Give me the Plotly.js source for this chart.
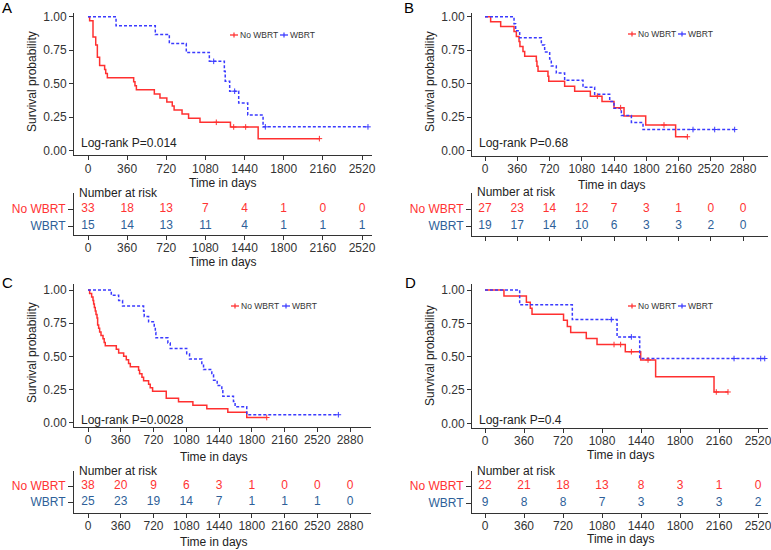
<!DOCTYPE html>
<html><head><meta charset="utf-8">
<script src="https://cdn.plot.ly/plotly-3.0.1.min.js"></script>
<style>html,body{margin:0;padding:0;background:#fff;}#chart{width:771px;height:550px;}</style>
</head><body><div id="chart"></div>
<script>
// ================= DATA =================
const groups = ['No WBRT', 'WBRT'];
const ticks2520 = [0, 360, 720, 1080, 1440, 1800, 2160, 2520];
const ticks2880 = [0, 360, 720, 1080, 1440, 1800, 2160, 2520, 2880];
const yTicks = [0, 0.25, 0.5, 0.75, 1];

// Panel A
const aNoT = [0, 15, 46, 71, 86, 107, 153, 163, 178, 420, 432, 445, 610, 662, 725, 775, 792, 865, 925, 1030, 1310, 1565, 2128];
const aNoS = [1, 0.970, 0.848, 0.788, 0.697, 0.636, 0.606, 0.576, 0.545, 0.515, 0.485, 0.455, 0.424, 0.394, 0.364, 0.333, 0.303, 0.273, 0.242, 0.212, 0.177, 0.09, 0.09];
const aNoCensT = [1180, 1340, 1450, 2128];
const aNoCensS = [0.212, 0.177, 0.177, 0.09];
const aWbT = [0, 258, 619, 748, 904, 1116, 1254, 1262, 1303, 1386, 1469, 1610, 2575];
const aWbS = [1, 0.933, 0.867, 0.800, 0.733, 0.667, 0.593, 0.519, 0.444, 0.356, 0.267, 0.178, 0.178];
const aWbCensT = [1156, 1349, 1631, 2575];
const aWbCensS = [0.667, 0.444, 0.178, 0.178];
const aRiskNo = [33, 18, 13, 7, 4, 1, 0, 0];
const aRiskWb = [15, 14, 13, 11, 4, 1, 1, 1];
const aP = 'Log-rank P=0.014';

// Panel B
const bNoT = [0, 63, 175, 324, 350, 380, 390, 424, 443, 573, 580, 592, 703, 712, 889, 1001, 1176, 1306, 1440, 1552, 1794, 2128, 2259];
const bNoS = [1, 0.963, 0.926, 0.889, 0.852, 0.815, 0.778, 0.741, 0.704, 0.667, 0.630, 0.593, 0.556, 0.519, 0.481, 0.444, 0.407, 0.367, 0.321, 0.259, 0.192, 0.104, 0.104];
const bNoCensT = [1254, 1514, 1998, 2259];
const bNoCensS = [0.407, 0.321, 0.192, 0.104];
const bWbT = [0, 324, 342, 387, 629, 666, 722, 740, 796, 889, 1094, 1224, 1392, 1440, 1522, 1634, 1764, 2787];
const bWbS = [1, 0.947, 0.895, 0.842, 0.789, 0.737, 0.684, 0.632, 0.579, 0.526, 0.474, 0.421, 0.368, 0.316, 0.263, 0.211, 0.158, 0.158];
const bWbCensT = [2322, 2564, 2787];
const bWbCensS = [0.158, 0.158, 0.158];
const bRiskNo = [27, 23, 14, 12, 7, 3, 1, 0, 0];
const bRiskWb = [19, 17, 14, 10, 6, 3, 3, 2, 0];
const bP = 'Log-rank P=0.68';

// Panel C
const cNoT = [0, 18, 40, 55, 62, 70, 80, 88, 99, 106, 117, 128, 143, 165, 178, 190, 311, 337, 392, 421, 446, 465, 556, 567, 593, 611, 666, 684, 710, 860, 995, 1153, 1306, 1537, 1745, 1965];
const cNoS = [1, 0.974, 0.947, 0.921, 0.895, 0.868, 0.842, 0.816, 0.789, 0.737, 0.711, 0.684, 0.658, 0.632, 0.605, 0.579, 0.553, 0.526, 0.500, 0.474, 0.447, 0.421, 0.395, 0.368, 0.342, 0.316, 0.289, 0.263, 0.237, 0.184, 0.158, 0.132, 0.105, 0.079, 0.039, 0.039];
const cNoCensT = [1965];
const cNoCensS = [0.039];
const cWbT = [0, 256, 337, 380, 611, 618, 666, 728, 740, 746, 878, 904, 1085, 1116, 1251, 1270, 1361, 1380, 1420, 1471, 1482, 1599, 1617, 1745, 2752];
const cWbS = [1, 0.96, 0.92, 0.88, 0.84, 0.80, 0.76, 0.72, 0.68, 0.64, 0.60, 0.56, 0.52, 0.48, 0.44, 0.40, 0.36, 0.32, 0.28, 0.24, 0.20, 0.16, 0.12, 0.06, 0.06];
const cWbCensT = [2752];
const cWbCensS = [0.06];
const cRiskNo = [38, 20, 9, 6, 3, 1, 0, 0, 0];
const cRiskWb = [25, 23, 19, 14, 7, 1, 1, 1, 0];
const cP = 'Log-rank P=0.0028';

// Panel D
const dNoT = [0, 175, 382, 418, 434, 725, 760, 791, 935, 1034, 1295, 1437, 1575, 2114, 2243];
const dNoS = [1, 0.955, 0.909, 0.864, 0.818, 0.773, 0.727, 0.682, 0.636, 0.591, 0.537, 0.475, 0.35, 0.235, 0.235];
const dNoCensT = [1191, 1252, 1351, 1505, 2135, 2243];
const dNoCensS = [0.591, 0.591, 0.537, 0.475, 0.235, 0.235];
const dWbT = [0, 320, 806, 1219, 1428, 2582];
const dWbS = [1, 0.889, 0.778, 0.648, 0.486, 0.486];
const dWbCensT = [1166, 1351, 2299, 2545, 2582];
const dWbCensS = [0.778, 0.648, 0.486, 0.486, 0.486];
const dRiskNo = [22, 21, 18, 13, 8, 3, 1, 0];
const dRiskWb = [9, 8, 8, 7, 3, 3, 3, 2];
const dP = 'Log-rank P=0.4';

// ================= STYLE / GEOMETRY =================
const W = 771, H = 550;
const FONT = 'Liberation Sans, Arial, Helvetica, sans-serif';
const RED = '#ff3030', BLUE = '#3a3aff';
const RED_T = '#ff3333', BLUE_T = '#2e5f99';
const AX = '#333333';

const panels = [
  {key:'A', noT:aNoT, noS:aNoS, noCT:aNoCensT, noCS:aNoCensS, wbT:aWbT, wbS:aWbS, wbCT:aWbCensT, wbCS:aWbCensS, rNo:aRiskNo, rWb:aRiskWb, p:aP, ticks:ticks2520,
   kmX:[74,372], xp0:88, xp1:362, kmY:[12.7,155.3], yp1:16.7, yp0:150.7, tbY:[193,235], rowNo:209, rowWb:226, tbLabels:true,
   lab:[7,8], ytit:[32,82], xtit:[223,183], tbtit:[223,262], lr:[80,143], nar:[78,193], leg:[230,35,280]},
  {key:'B', noT:bNoT, noS:bNoS, noCT:bNoCensT, noCS:bNoCensS, wbT:bWbT, wbS:bWbS, wbCT:bWbCensT, wbCS:bWbCensS, rNo:bRiskNo, rWb:bRiskWb, p:bP, ticks:ticks2880,
   kmX:[472,768], xp0:485, xp1:743, kmY:[13,156], yp1:16.7, yp0:150.7, tbY:[193,236], rowNo:209, rowWb:226, tbLabels:false,
   lab:[409,8], ytit:[430,82], xtit:[612,185], tbtit:null, lr:[478,143], nar:[476,192], leg:[628,34,678]},
  {key:'C', noT:cNoT, noS:cNoS, noCT:cNoCensT, noCS:cNoCensS, wbT:cWbT, wbS:cWbS, wbCT:cWbCensT, wbCS:cWbCensS, rNo:cRiskNo, rWb:cRiskWb, p:cP, ticks:ticks2880,
   kmX:[74,370.7], xp0:88, xp1:350, kmY:[284,426.7], yp1:290, yp0:422.7, tbY:[471,513], rowNo:486, rowWb:502, tbLabels:true,
   lab:[7,282], ytit:[32,353], xtit:[214,457], tbtit:[214,542], lr:[80,420], nar:[78,471], leg:[231,306,282]},
  {key:'D', noT:dNoT, noS:dNoS, noCT:dNoCensT, noCS:dNoCensS, wbT:dWbT, wbS:dWbS, wbCT:dWbCensT, wbCS:dWbCensS, rNo:dRiskNo, rWb:dRiskWb, p:dP, ticks:ticks2520,
   kmX:[472,768], xp0:485, xp1:758, kmY:[284,428], yp1:290, yp0:423.3, tbY:[471,513], rowNo:486, rowWb:503, tbLabels:true,
   lab:[410,282], ytit:[430,356], xtit:[621,455], tbtit:[621,539], lr:[478,420], nar:[476,471], leg:[628,306,678]}
];

function pxX(p){return p / W;}
function pxY(p){return 1 - p / H;}
// value range spanning pixel edges [a,b], given value v0 at pixel p0 and v1 at p1
function spanRange(a, b, p0, v0, p1, v1){
  const k = (v1 - v0) / (p1 - p0);
  return [v0 + (a - p0) * k, v0 + (b - p0) * k];
}

const traces = [];
const layout = {
  width: W, height: H, margin:{l:0,r:0,t:0,b:0},
  paper_bgcolor:'#fff', plot_bgcolor:'rgba(0,0,0,0)',
  font:{family:FONT, size:12, color:AX},
  showlegend:false, annotations:[], shapes:[]
};

const baseAxis = {showline:true, linecolor:AX, linewidth:1, ticks:'outside', ticklen:4, tickcolor:AX, tickwidth:1,
  showgrid:false, zeroline:false, fixedrange:true, ticklabeloverflow:'allow',
  tickfont:{family:FONT, size:12, color:AX}};

function ann(text, x, y, opts){
  layout.annotations.push(Object.assign({text:text, x:pxX(x), y:pxY(y), xref:'paper', yref:'paper',
    showarrow:false, xanchor:'center', yanchor:'middle', borderpad:0, font:{family:FONT, size:12, color:'#222'}}, opts||{}));
}

panels.forEach((g, i) => {
  const kn = i + 1, tn = i + 5;
  const kx = 'x' + (kn === 1 ? '' : kn), ky = 'y' + (kn === 1 ? '' : kn);
  const tx = 'x' + tn, ty = 'y' + tn;
  const lastTick = g.ticks[g.ticks.length - 1];
  const xr = spanRange(g.kmX[0], g.kmX[1], g.xp0, 0, g.xp1, lastTick);
  const yr = spanRange(g.kmY[1], g.kmY[0], g.yp0, 0, g.yp1, 1);
  const tyr = spanRange(g.tbY[1], g.tbY[0], g.rowWb, 0, g.rowNo, 1);

  layout['xaxis' + (kn === 1 ? '' : kn)] = Object.assign({}, baseAxis, {domain:[pxX(g.kmX[0]), pxX(g.kmX[1])], range:xr, tickvals:g.ticks, anchor:ky, ticklabelstandoff:-2});
  layout['yaxis' + (kn === 1 ? '' : kn)] = Object.assign({}, baseAxis, {domain:[pxY(g.kmY[1]), pxY(g.kmY[0])], range:yr, tickvals:yTicks, tickformat:'.2f', anchor:kx});
  layout['xaxis' + tn] = Object.assign({}, baseAxis, {domain:[pxX(g.kmX[0]), pxX(g.kmX[1])], range:xr, tickvals:g.ticks, anchor:ty, showticklabels:g.tbLabels, ticklabelstandoff:-2});
  layout['yaxis' + tn] = Object.assign({}, baseAxis, {domain:[pxY(g.tbY[1]), pxY(g.tbY[0])], range:tyr, tickvals:[1, 0], ticklen:5,
    ticktext:['<span style="color:' + RED_T + '">' + groups[0] + '</span>', '<span style="color:' + BLUE_T + '">' + groups[1] + '</span>'], anchor:tx});

  // KM curves
  traces.push({x:g.noT, y:g.noS, xaxis:kx, yaxis:ky, type:'scatter', mode:'lines', name:groups[0],
    line:{shape:'hv', color:RED, width:1.5}, hoverinfo:'skip'});
  traces.push({x:g.wbT, y:g.wbS, xaxis:kx, yaxis:ky, type:'scatter', mode:'lines', name:groups[1],
    line:{shape:'hv', color:BLUE, width:1.5, dash:'3px,2px'}, hoverinfo:'skip'});
  // censor marks
  traces.push({x:g.noCT, y:g.noCS, xaxis:kx, yaxis:ky, type:'scatter', mode:'markers',
    marker:{symbol:'cross-thin', size:4, color:RED, line:{color:RED, width:1}}, hoverinfo:'skip'});
  traces.push({x:g.wbCT, y:g.wbCS, xaxis:kx, yaxis:ky, type:'scatter', mode:'markers',
    marker:{symbol:'cross-thin', size:4, color:BLUE, line:{color:BLUE, width:1}}, hoverinfo:'skip'});
  // risk table
  traces.push({x:g.ticks, y:g.ticks.map(() => 1), text:g.rNo.map(String), xaxis:tx, yaxis:ty, type:'scatter', mode:'text',
    textfont:{family:FONT, size:12, color:RED_T}, hoverinfo:'skip', cliponaxis:false});
  traces.push({x:g.ticks, y:g.ticks.map(() => 0), text:g.rWb.map(String), xaxis:tx, yaxis:ty, type:'scatter', mode:'text',
    textfont:{family:FONT, size:12, color:BLUE_T}, hoverinfo:'skip', cliponaxis:false});

  // texts
  ann(g.key, g.lab[0], g.lab[1], {font:{family:FONT, size:15, color:'#000'}});
  ann('Survival probability', g.ytit[0], g.ytit[1], {textangle:-90});
  ann('Time in days', g.xtit[0], g.xtit[1]);
  if (g.tbtit) ann('Time in days', g.tbtit[0], g.tbtit[1]);
  ann(g.p, g.lr[0], g.lr[1], {xanchor:'left'});
  ann('Number at risk', g.nar[0], g.nar[1], {xanchor:'left'});

  // legend (drawn manually: short line with "+" then label)
  const lx = g.leg[0], ly = g.leg[1], lx2 = g.leg[2];
  [[lx, RED, groups[0]], [lx2, BLUE, groups[1]]].forEach(([x0, col, name]) => {
    layout.shapes.push({type:'line', xref:'paper', yref:'paper', x0:pxX(x0), x1:pxX(x0 + 8), y0:pxY(ly), y1:pxY(ly), line:{color:col, width:1.3}});
    layout.shapes.push({type:'line', xref:'paper', yref:'paper', x0:pxX(x0 + 4), x1:pxX(x0 + 4), y0:pxY(ly - 2.5), y1:pxY(ly + 2.5), line:{color:col, width:1.2}});
    ann(name, x0 + 9, ly, {xanchor:'left', font:{family:FONT, size:8.5, color:'#333'}});
  });
});

Plotly.newPlot('chart', traces, layout, {displayModeBar:false, staticPlot:true});
</script></body></html>
